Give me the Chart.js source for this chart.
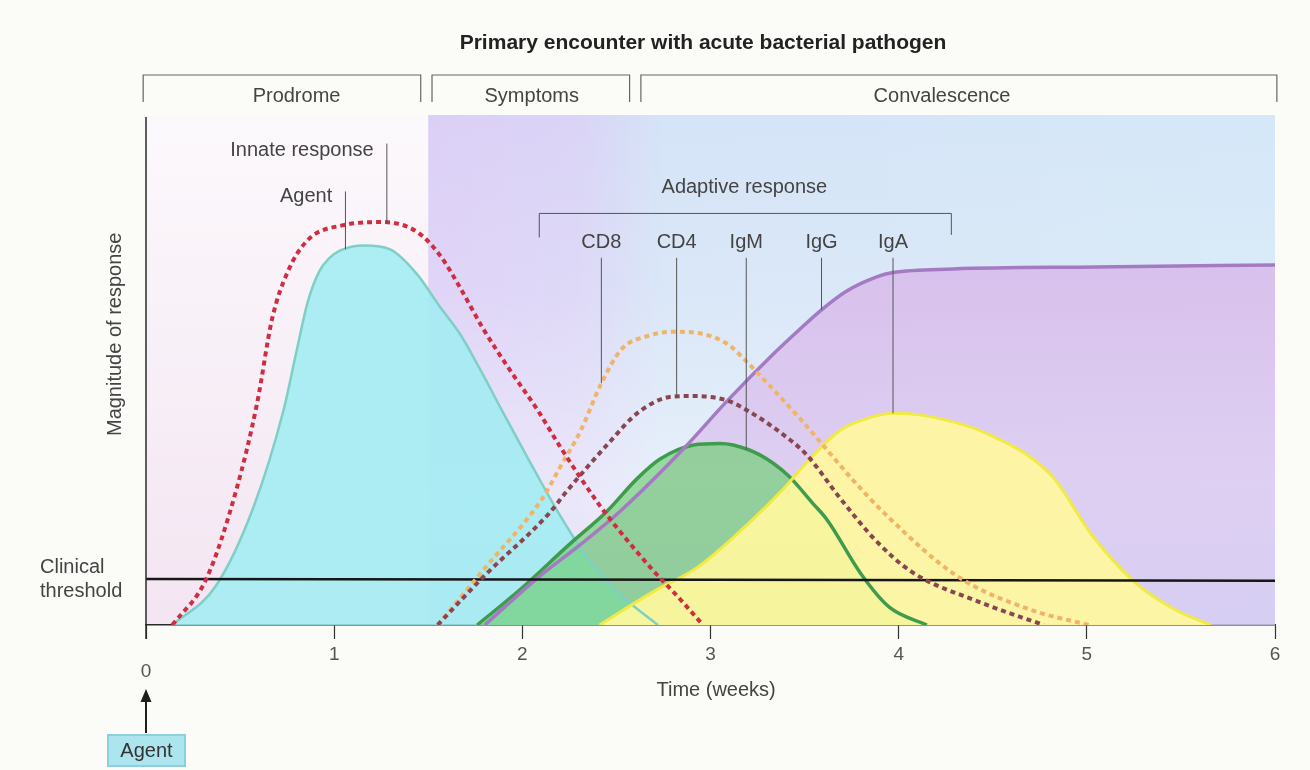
<!DOCTYPE html>
<html>
<head>
<meta charset="utf-8">
<title>Primary encounter with acute bacterial pathogen</title>
<script src="https://cdn.jsdelivr.net/npm/chart.js@4.4.1/dist/chart.umd.min.js"></script>
<style>
  html, body { margin: 0; padding: 0; background: #fbfbf8; }
  #wrap { width: 1310px; height: 770px; }
</style>
</head>
<body>
<div id="wrap"><canvas id="chart" width="1310" height="770"></canvas></div>
<script>
"use strict";

// Time axis (weeks after exposure)
const weekTicks = [0, 1, 2, 3, 4, 5, 6];

// Agent (pathogen load)
const agentWeeks  = [0.14, 0.37, 0.57, 0.73, 0.80, 0.86, 0.92, 0.97, 1.03, 1.16, 1.30, 1.44, 1.56, 1.67, 1.77, 1.90, 2.04, 2.20, 2.34, 2.52, 2.72];
const agentValues = [0, 7.6, 23, 42, 53.7, 63.4, 69.3, 71.8, 73.4, 74.4, 73.6, 68.8, 62.5, 57, 50.5, 41.5, 32, 21.5, 13.5, 6, 0];

// Innate response (dotted)
const innateWeeks  = [0.14, 0.32, 0.48, 0.59, 0.67, 0.75, 0.86, 1.05, 1.26, 1.44, 1.56, 1.67, 1.79, 1.93, 2.08, 2.20, 2.41, 2.52, 2.69, 2.84, 2.96];
const innateValues = [0, 9, 26.5, 43.4, 60, 69, 75.5, 78.4, 79, 77.1, 72.6, 66.1, 58.2, 50.2, 42.2, 35, 23.5, 18.3, 10.9, 5, 0];

// CD8 T cells (dotted)
const cd8Weeks  = [1.55, 1.80, 2.11, 2.20, 2.31, 2.42, 2.53, 2.66, 2.80, 2.94, 3.09, 3.19, 3.33, 3.48, 3.62, 3.76, 3.93, 4.31, 4.70, 5.01];
const cd8Values = [0, 11.1, 25, 30.9, 38.1, 47.4, 54.2, 56.6, 57.5, 57.2, 55.1, 51.7, 46.3, 40.3, 34.3, 28.3, 21.7, 9.6, 3, 0];

// CD4 T cells (dotted)
const cd4Weeks  = [1.55, 1.80, 2.14, 2.24, 2.45, 2.62, 2.80, 2.91, 3.09, 3.23, 3.37, 3.51, 3.69, 3.88, 4.07, 4.43, 4.77];
const cd4Values = [0, 9.7, 21.8, 26.4, 35.3, 41.8, 44.8, 44.9, 44, 41.3, 37.8, 33.4, 24.8, 16.5, 10.4, 4.5, 0];

// IgM
const igmWeeks  = [1.76, 1.99, 2.25, 2.45, 2.61, 2.73, 2.91, 3.05, 3.12, 3.26, 3.41, 3.54, 3.62, 3.80, 3.95, 4.15];
const igmValues = [0, 7, 15.8, 22.3, 28.7, 32.5, 35.3, 35.6, 35.3, 33.4, 29.4, 24, 20.6, 10, 3.5, 0];

// IgG
const iggWeeks  = [1.80, 2.09, 2.31, 2.52, 2.85, 3.09, 3.33, 3.46, 3.59, 3.72, 3.88, 3.97, 4.29, 5.05, 6.0];
const iggValues = [0, 9.5, 15.8, 22.3, 34.3, 44, 53, 57.5, 61.8, 65.4, 68.2, 69.1, 69.8, 70.2, 70.6];

// IgA
const igaWeeks  = [2.41, 2.69, 2.93, 3.14, 3.37, 3.51, 3.69, 3.86, 3.97, 4.13, 4.47, 4.81, 5.03, 5.26, 5.48, 5.66];
const igaValues = [0, 6.4, 11.3, 17.8, 26, 31.8, 38.2, 40.8, 41.5, 41.1, 37.5, 29.4, 17.5, 8.2, 2.8, 0];

// Clinical threshold
const thresholdWeeks  = [0, 6];
const thresholdValues = [9, 8.7];

// Phases of disease
const phaseNames   = ["Prodrome", "Symptoms", "Convalescence"];
const phaseStart   = [-0.015, 1.52, 2.63];
const phaseEnd     = [1.46, 2.57, 6.01];
const phaseLabelAt = [0.80, 2.05, 4.23];

// Adaptive response labels (week each leader line sits at)
const adaptiveNames = ["CD8", "CD4", "IgM", "IgG", "IgA"];
const adaptiveAt    = [2.42, 2.82, 3.19, 3.59, 3.97];
const adaptiveSpan  = [2.09, 4.28];

const FONT = "'Liberation Sans', Arial, sans-serif";
const INK = "#444";

function pts(ws, vs) {
  return ws.map((w, i) => ({ x: w, y: vs[i] }));
}

// linear read-off of a series, used to end leader lines on a curve
function valueAt(ws, vs, w) {
  for (let i = 1; i < ws.length; i++) {
    if (w <= ws[i]) {
      const t = (w - ws[i - 1]) / (ws[i] - ws[i - 1]);
      return vs[i - 1] + t * (vs[i] - vs[i - 1]);
    }
  }
  return vs[vs.length - 1];
}

const adaptiveSeries = [
  [cd8Weeks, cd8Values],
  [cd4Weeks, cd4Values],
  [igmWeeks, igmValues],
  [iggWeeks, iggValues],
  [igaWeeks, igaValues],
];

const area = (data, color, order) => ({
  data, order,
  backgroundColor: color,
  borderColor: "transparent",
  borderWidth: 0,
  pointRadius: 0,
  fill: "origin",
  cubicInterpolationMode: "monotone",
});

const curve = (data, color, width, order, dash) => ({
  data, order,
  borderColor: color,
  borderWidth: width,
  borderDash: dash || [],
  borderCapStyle: "butt",
  pointRadius: 0,
  fill: false,
  cubicInterpolationMode: "monotone",
});

function iggGradient(context) {
  const { chart } = context;
  const a = chart.chartArea;
  if (!a) return "rgba(214,188,234,0.8)";
  const g = chart.ctx.createLinearGradient(0, a.top + 140, 0, a.bottom);
  g.addColorStop(0, "rgba(216,186,234,0.88)");
  g.addColorStop(0.6, "rgba(220,200,240,0.82)");
  g.addColorStop(1, "rgba(212,200,242,0.85)");
  return g;
}

const decor = {
  id: "decor",
  beforeDraw(chart) {
    const { ctx, chartArea: a, scales: { x } } = chart;
    ctx.save();
    ctx.fillStyle = "#fbfbf8";
    ctx.fillRect(0, 0, chart.width, chart.height);

    const xs = x.getPixelForValue(phaseStart[1] - 0.02);
    let g = ctx.createLinearGradient(0, a.top, 0, a.bottom);
    g.addColorStop(0, "#fcf9fc");
    g.addColorStop(1, "#f3e5f2");
    ctx.fillStyle = g;
    ctx.fillRect(a.left, a.top, xs - a.left, a.bottom - a.top);

    g = ctx.createLinearGradient(xs, 0, a.right, 0);
    g.addColorStop(0, "#dccff6");
    g.addColorStop((x.getPixelForValue(2.3) - xs) / (a.right - xs), "#dad4f6");
    g.addColorStop((x.getPixelForValue(2.75) - xs) / (a.right - xs), "#d5e4f7");
    g.addColorStop(1, "#d5e8f8");
    ctx.fillStyle = g;
    ctx.fillRect(xs, a.top, a.right - xs, a.bottom - a.top);

    // lower part of the field fades toward white
    g = ctx.createLinearGradient(0, a.top, 0, a.bottom);
    g.addColorStop(0, "rgba(255,255,255,0)");
    g.addColorStop(0.35, "rgba(255,255,255,0.12)");
    g.addColorStop(0.75, "rgba(255,255,255,0.45)");
    g.addColorStop(1, "rgba(255,255,255,0.3)");
    ctx.fillStyle = g;
    ctx.fillRect(xs, a.top, a.right - xs, a.bottom - a.top);
    ctx.restore();
  },
  afterDraw(chart) {
    const { ctx, chartArea: a, scales: { x, y } } = chart;
    const X = (w) => x.getPixelForValue(w);
    const Y = (v) => y.getPixelForValue(v);
    ctx.save();

    // vertical axis
    ctx.strokeStyle = "#2a2a2a";
    ctx.lineWidth = 1.5;
    ctx.beginPath();
    ctx.moveTo(a.left, a.top + 2);
    ctx.lineTo(a.left, a.bottom + 14);
    ctx.stroke();

    // title
    ctx.fillStyle = "#222";
    ctx.textAlign = "center";
    ctx.textBaseline = "middle";
    ctx.font = `bold 21px ${FONT}`;
    ctx.fillText("Primary encounter with acute bacterial pathogen", 703, 43);

    // phase brackets
    ctx.font = `20px ${FONT}`;
    ctx.strokeStyle = "#666";
    ctx.lineWidth = 1.2;
    phaseNames.forEach((name, i) => {
      const x0 = X(phaseStart[i]), x1 = X(phaseEnd[i]);
      ctx.beginPath();
      ctx.moveTo(x0, 102);
      ctx.lineTo(x0, 75);
      ctx.lineTo(x1, 75);
      ctx.lineTo(x1, 102);
      ctx.stroke();
      ctx.fillStyle = INK;
      ctx.fillText(name, X(phaseLabelAt[i]), 96);
    });

    // innate + agent labels
    ctx.strokeStyle = "#555";
    ctx.lineWidth = 1;
    ctx.fillStyle = INK;
    ctx.textAlign = "right";
    ctx.fillText("Innate response", X(1.21), Y(93));
    ctx.beginPath();
    ctx.moveTo(X(1.28), Y(94.4));
    ctx.lineTo(X(1.28), Y(valueAt(innateWeeks, innateValues, 1.28)));
    ctx.stroke();
    ctx.fillText("Agent", X(0.99), Y(84));
    ctx.beginPath();
    ctx.moveTo(X(1.06), Y(85));
    ctx.lineTo(X(1.06), Y(valueAt(agentWeeks, agentValues, 1.06)));
    ctx.stroke();

    // adaptive response bracket and labels
    ctx.textAlign = "center";
    ctx.fillText("Adaptive response", X(3.18), Y(85.8));
    ctx.beginPath();
    ctx.moveTo(X(adaptiveSpan[0]), Y(76));
    ctx.lineTo(X(adaptiveSpan[0]), Y(80.7));
    ctx.lineTo(X(adaptiveSpan[1]), Y(80.7));
    ctx.lineTo(X(adaptiveSpan[1]), Y(76.5));
    ctx.stroke();
    adaptiveNames.forEach((name, i) => {
      const w = adaptiveAt[i];
      const [ws, vs] = adaptiveSeries[i];
      ctx.fillText(name, X(w), Y(75));
      ctx.beginPath();
      ctx.moveTo(X(w), Y(72));
      ctx.lineTo(X(w), Y(valueAt(ws, vs, w)));
      ctx.stroke();
    });

    // clinical threshold label
    const yt = Y(thresholdValues[0]);
    ctx.textAlign = "left";
    ctx.fillText("Clinical", 40, yt - 12);
    ctx.fillText("threshold", 40, yt + 12);

    // y title
    ctx.save();
    ctx.translate(115, Y(57));
    ctx.rotate(-Math.PI / 2);
    ctx.textAlign = "center";
    ctx.fillText("Magnitude of response", 0, 0);
    ctx.restore();

    // x title and origin
    ctx.textAlign = "center";
    ctx.fillText("Time (weeks)", X(3.03), a.bottom + 65);
    ctx.fillStyle = "#555";
    ctx.font = `19px ${FONT}`;
    ctx.fillText("0", a.left, a.bottom + 47);

    // exposure arrow + box
    ctx.strokeStyle = "#1e1e1e";
    ctx.lineWidth = 2;
    ctx.beginPath();
    ctx.moveTo(a.left, a.bottom + 108);
    ctx.lineTo(a.left, a.bottom + 74);
    ctx.stroke();
    ctx.fillStyle = "#1e1e1e";
    ctx.beginPath();
    ctx.moveTo(a.left, a.bottom + 64);
    ctx.lineTo(a.left - 5.5, a.bottom + 77);
    ctx.lineTo(a.left + 5.5, a.bottom + 77);
    ctx.closePath();
    ctx.fill();

    ctx.fillStyle = "#ade5ef";
    ctx.strokeStyle = "#8ccfde";
    ctx.lineWidth = 2;
    ctx.fillRect(a.left - 38, a.bottom + 110, 77, 31);
    ctx.strokeRect(a.left - 38, a.bottom + 110, 77, 31);
    ctx.fillStyle = "#333";
    ctx.font = `20px ${FONT}`;
    ctx.fillText("Agent", a.left + 0.5, a.bottom + 126);

    ctx.restore();
  },
};

new Chart(document.getElementById("chart"), {
  type: "line",
  data: {
    datasets: [
      // filled regions, drawn first (highest order)
      area(pts(iggWeeks, iggValues), iggGradient, 20),
      area(pts(agentWeeks, agentValues), "rgba(160,236,242,0.86)", 19),
      area(pts(igmWeeks, igmValues), "rgba(110,206,112,0.66)", 18),
      area(pts(igaWeeks, igaValues), "rgba(255,248,158,0.92)", 17),
      // outlines
      curve(pts(agentWeeks, agentValues), "#7fcfc6", 2.5, 9),
      curve(pts(igmWeeks, igmValues), "#3f9c4d", 3.5, 8),
      curve(pts(igaWeeks, igaValues), "#f2ea44", 3, 7),
      curve(pts(iggWeeks, iggValues), "#a47bc3", 3.5, 6),
      curve(pts(thresholdWeeks, thresholdValues), "#161616", 2.5, 5),
      curve(pts(cd8Weeks, cd8Values), "#f0b468", 4, 4, [5, 4]),
      curve(pts(cd4Weeks, cd4Values), "#8a4650", 4, 3, [5, 4]),
      curve(pts(innateWeeks, innateValues), "#cf2d40", 4, 2, [5, 4]),
    ],
  },
  options: {
    responsive: false,
    animation: false,
    devicePixelRatio: 1,
    layout: { padding: { left: 146, right: 35, top: 115, bottom: 95 } },
    plugins: {
      legend: { display: false },
      tooltip: { enabled: false },
    },
    scales: {
      x: {
        type: "linear",
        min: 0,
        max: 6,
        afterFit: (s) => { s.height = 50; },
        afterBuildTicks: (s) => { s.ticks = weekTicks.map((v) => ({ value: v })); },
        ticks: {
          callback: (v) => (v === 0 ? "" : String(v)),
          font: { family: FONT, size: 19 },
          color: "#555",
          padding: 4,
          autoSkip: false,
          maxRotation: 0,
        },
        grid: {
          display: true,
          drawOnChartArea: false,
          drawTicks: true,
          tickLength: 14,
          tickColor: "#333",
          tickWidth: 1.2,
        },
        border: { display: true, color: "#2a2a2a", width: 1.5 },
      },
      y: { type: "linear", min: 0, max: 100, display: false },
    },
  },
  plugins: [decor],
});
</script>
</body>
</html>
